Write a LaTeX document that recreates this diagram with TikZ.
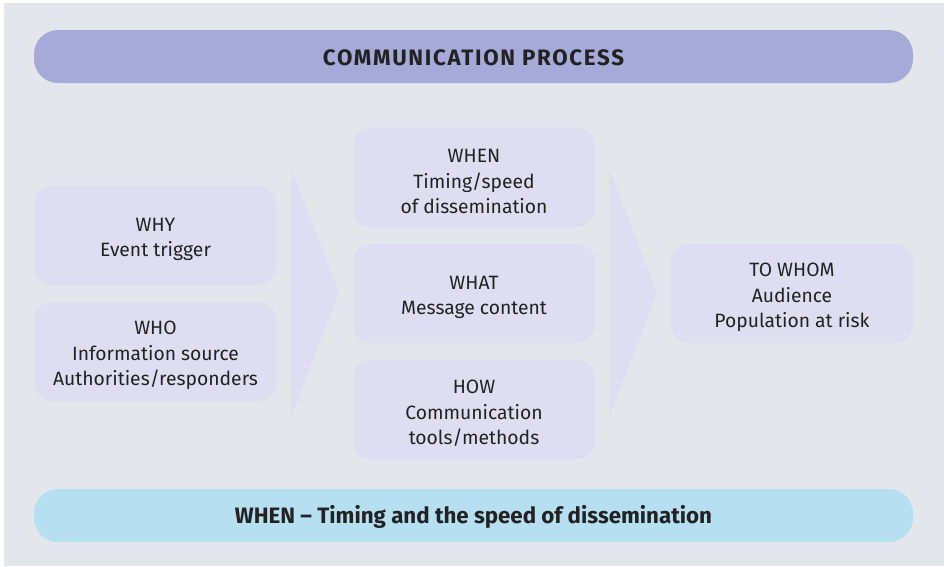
\documentclass[tikz,border=0pt]{standalone}
\usepackage{fontspec}
\setmainfont{Fira Sans}
% invisible strut that lowers a centred text block a little
\newcommand\liftstrut[1]{\rule{0pt}{#1}}
\newcommand\boxstrut{\liftstrut{21.5pt}}
\begin{document}
\begin{tikzpicture}[x=1pt,y=-1pt,
  every node/.style={inner sep=0pt, outer sep=0pt, text=txt, align=center},
  stepbox/.style={fill=boxfill, rounded corners=18pt, minimum width=242pt, minimum height=99pt,
    font=\fontsize{19.3}{25.5}\selectfont},
  bar/.style={rounded corners=24pt, minimum width=879pt, minimum height=53pt,
    font=\bfseries\fontsize{22.3}{26}\selectfont},
  chevron/.style={fill=boxfill, rounded corners=2pt}
]
\definecolor{bg}{HTML}{E3E7EB}
\definecolor{boxfill}{HTML}{DFDDF2}
\definecolor{topfill}{HTML}{A6AAD8}
\definecolor{botfill}{HTML}{B6DFF1}
\definecolor{txt}{HTML}{222222}

% page and panel
\useasboundingbox (0,0) rectangle (944,566);
\fill[white] (0,0) rectangle (944,566);
\fill[bg] (4,3) rectangle (944,566);

% header and footer bars
\node[bar, fill=topfill] (title) at (473.5,56.5)
  {\liftstrut{18.5pt}\addfontfeatures{LetterSpace=7.5}COMMUNICATION PROCESS};
\node[bar, fill=botfill] (footer) at (473.5,515.5)
  {\liftstrut{21pt}WHEN – Timing and the speed of dissemination};

% flow chevrons
\fill[chevron] (291,168) -- (339,292) -- (291,418) -- cycle;
\fill[chevron] (609,168) -- (657,293) -- (609,418) -- cycle;

% left column
\node[stepbox] (why) at (155.5,235.5) {\boxstrut WHY\\Event trigger};
\node[stepbox] (who) at (155.5,351.5) {\boxstrut WHO\\Information source\\Authorities/responders};

% middle column
\node[stepbox] (when) at (474,177.5) {\boxstrut WHEN\\Timing/speed\\of dissemination};
\node[stepbox] (what) at (474,293.5) {\boxstrut WHAT\\Message content};
\node[stepbox] (how) at (474,409.5) {\boxstrut HOW\\Communication\\tools/methods};

% right column
\node[stepbox] (whom) at (792,293.5) {\boxstrut TO WHOM\\Audience\\Population at risk};
\end{tikzpicture}
\end{document}
